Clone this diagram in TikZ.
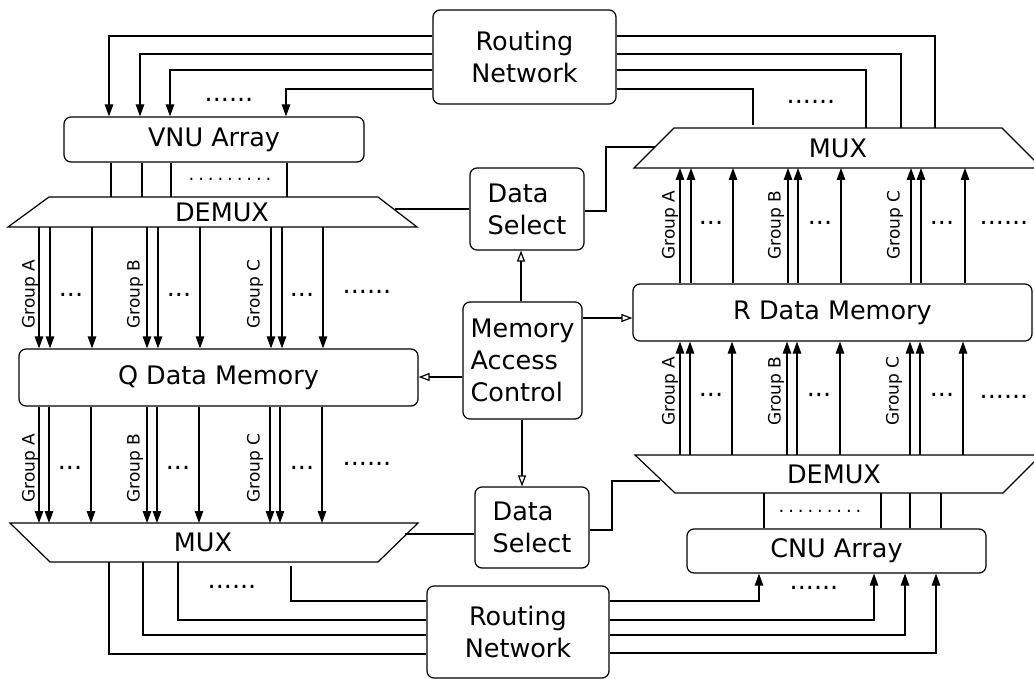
\documentclass[tikz,border=0pt]{standalone}
\usepackage{fontspec}
\setmainfont{DejaVu Sans}
\usetikzlibrary{arrows.meta}
\newcommand\bigf{\fontsize{25.5}{32}\selectfont}
\newcommand\grpf{\fontsize{17}{20}\selectfont}
\newcommand\smalldots{\fontsize{18}{20}\selectfont .\kern3.9pt.\kern3.9pt.\kern3.9pt.\kern3.9pt.\kern3.9pt.\kern3.9pt.\kern3.9pt.\kern3.9pt.}
\begin{document}
\begin{tikzpicture}[x=1pt,y=-1pt,line width=1.2pt,
  box/.style={draw,rounded corners=7pt,inner sep=0pt,font=\bigf,align=center},
  lbox/.style={draw,rounded corners=7pt,inner sep=0pt,font=\bigf,align=left},
  lab/.style={inner sep=0pt,font=\bigf},
  grp/.style={inner sep=0pt,font=\grpf,rotate=90},
  dts/.style={inner sep=0pt,font=\bigf},
  arr/.style={-{Triangle[length=12pt,width=8.5pt]}},
  oarr/.style={-{Triangle[open,length=11pt,width=8pt]}}]
\useasboundingbox (0,0) rectangle (1034,679);

% boxes
\node[box,minimum width=183pt,minimum height=94pt] (rnt) at (524.5,57) {Routing\\Network};
\node[box,minimum width=300pt,minimum height=45pt] (vnu) at (214,139.5) {VNU Array};
\node[lbox,minimum width=114pt,minimum height=82pt] (dsT) at (527,209) {Data\\Select};
\node[lbox,minimum width=119pt,minimum height=117pt] (mac) at (522.5,360.5) {Memory\\Access\\Control};
\node[lbox,minimum width=114pt,minimum height=81pt] (dsB) at (532,527.5) {Data\\Select};
\node[box,minimum width=399pt,minimum height=57pt] (Q) at (218.5,377.5) {Q Data Memory};
\node[box,minimum width=399pt,minimum height=57pt] (R) at (832.5,312.5) {R Data Memory};
\node[box,minimum width=299pt,minimum height=44pt] (cnu) at (836.5,551) {CNU Array};
\node[box,minimum width=182pt,minimum height=92pt] (rnb) at (518,632) {Routing\\Network};

% trapezoids
\draw (49,197) -- (378,197) -- (417,227) -- (8,227) -- cycle;
\node[lab] (demuxL) at (222,212) {DEMUX};
\draw (674,128) -- (1002,128) -- (1042,168) -- (634,168) -- cycle;
\node[lab] (muxR) at (838,148) {MUX};
\draw (635,455) -- (1041,455) -- (1003,493) -- (675,493) -- cycle;
\node[lab] (demuxR) at (834,474) {DEMUX};
\draw (10,523) -- (418,523) -- (378,562) -- (50,562) -- cycle;
\node[lab] (muxL) at (203,542) {MUX};

% top routing network
\draw[arr] (rnt.west |- 0,36) -| (vnu.north -| 109,0);
\draw[arr] (rnt.west |- 0,54) -| (vnu.north -| 140,0);
\draw[arr] (rnt.west |- 0,70) -| (vnu.north -| 170,0);
\draw[arr] (rnt.west |- 0,89) -| (vnu.north -| 286,0);
\node[dts] at (229,100) {......};
\draw (rnt.east |- 0,36) -| (935,128);
\draw (rnt.east |- 0,54) -| (901,128);
\draw (rnt.east |- 0,70) -| (866,128);
\draw (rnt.east |- 0,89) -| (753,125);
\node[dts] at (811,102) {......};

% VNU to DEMUX
\foreach \x in {111,142,171,287} \draw (vnu.south -| \x,0) -- (\x,197);
\node[inner sep=0pt] at (230,179) {\smalldots};

% DEMUX to Q
\foreach \x in {39,50,92,147,158,200,271,282,323} \draw[arr] (\x,227) -- (Q.north -| \x,0);
\node[grp] at (30,294) {Group A};
\node[grp] at (135,294) {Group B};
\node[grp] at (255,294) {Group C};
\node[dts] at (71,295) {...};
\node[dts] at (179,295) {...};
\node[dts] at (302,295) {...};
\node[dts] at (367,292) {......};

% Q to MUX
\foreach \x in {39,49,91,147,157,199,270,280,322} \draw[arr] (Q.south -| \x,0) -- (\x,523);
\node[grp] at (30,468) {Group A};
\node[grp] at (135,468) {Group B};
\node[grp] at (255,468) {Group C};
\node[dts] at (70,468) {...};
\node[dts] at (178,468) {...};
\node[dts] at (302,468) {...};
\node[dts] at (367,464) {......};

% bottom routing network
\draw (109,562) |- (rnb.west |- 0,654);
\draw (143,562) |- (rnb.west |- 0,635);
\draw (178,562) |- (rnb.west |- 0,620);
\draw (291,566) |- (rnb.west |- 0,601);
\node[dts] at (232,587) {......};
\draw[arr] (rnb.east |- 0,601) -| (cnu.south -| 759,0);
\draw[arr] (rnb.east |- 0,620) -| (cnu.south -| 874,0);
\draw[arr] (rnb.east |- 0,635) -| (cnu.south -| 905,0);
\draw[arr] (rnb.east |- 0,653) -| (cnu.south -| 936,0);
\node[dts] at (814,588) {......};

% R to MUX (top right)
\foreach \x in {680,691,733,788,798,841,911,921,965} \draw[arr] (R.north -| \x,0) -- (\x,168);
\node[grp] at (670,225) {Group A};
\node[grp] at (776,225) {Group B};
\node[grp] at (895,225) {Group C};
\node[dts] at (711,223) {...};
\node[dts] at (820,223) {...};
\node[dts] at (942,223) {...};
\node[dts] at (1004,223) {......};

% DEMUX to R
\foreach \x in {680,690,732,787,797,840,910,920,963} \draw[arr] (\x,455) -- (R.south -| \x,0);
\node[grp] at (670,391) {Group A};
\node[grp] at (776,391) {Group B};
\node[grp] at (894,391) {Group C};
\node[dts] at (711,395) {...};
\node[dts] at (819,395) {...};
\node[dts] at (942,395) {...};
\node[dts] at (1004,397) {......};

% DEMUX to CNU
\foreach \x in {764,881,910,941} \draw (\x,493) -- (cnu.north -| \x,0);
\node[inner sep=0pt] at (820,511) {\smalldots};

% data select connectors
\draw (395,209) -- (dsT.west);
\draw (dsT.east |- 0,211) -- (606,211) -- (606,147) -- (655,147);
\draw (405,534) -- (dsB.west |- 0,534);
\draw (dsB.east |- 0,530) -- (612,530) -- (612,481) -- (660,481);

% memory access control
\draw[oarr] (mac.north -| 521,0) -- (dsT.south -| 521,0);
\draw[oarr] (mac.south -| 522,0) -- (dsB.north -| 522,0);
\draw[oarr] (mac.east |- 0,318) -- (R.west |- 0,318);
\draw[oarr] (mac.west |- 0,377) -- (Q.east |- 0,377);
\end{tikzpicture}
\end{document}
